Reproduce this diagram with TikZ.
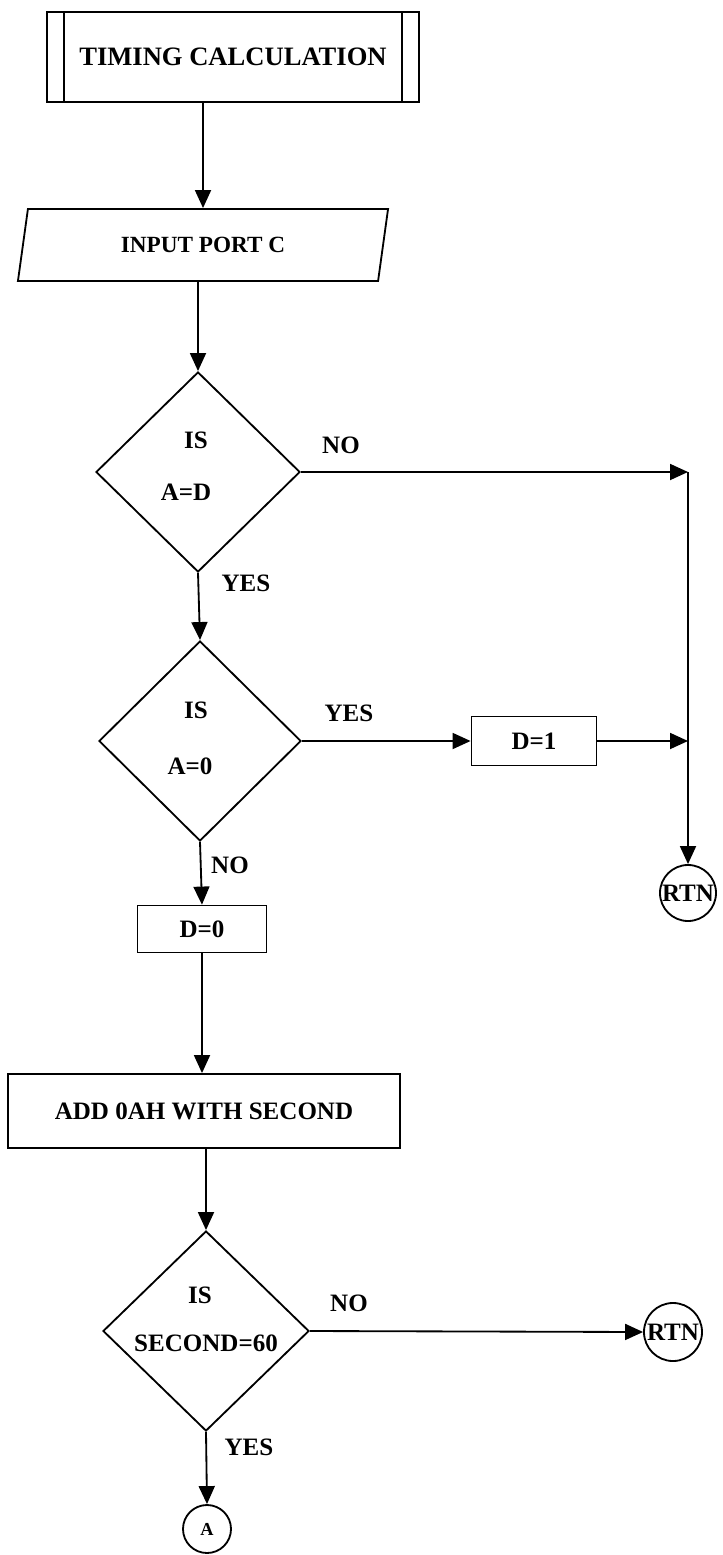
\documentclass[tikz,border=0pt]{standalone}
\usepackage{fontspec}
\setmainfont{Liberation Serif}
\usetikzlibrary{arrows.meta,shapes.geometric}

\begin{document}
\begin{tikzpicture}[x=0.025cm,y=-0.025cm,
  every node/.style={font=\bfseries\fontsize{17.8}{21}\selectfont},
  flowline/.style={line width=1.3pt,-{Triangle[length=0.45cm,width=0.4cm]}},
  procbox/.style={draw,line width=1.3pt,rectangle,inner sep=0pt},
  decision/.style={draw,line width=1.3pt,diamond,inner sep=0pt,minimum height=5cm},
  termnode/.style={draw,line width=1.3pt,circle,inner sep=0pt}]
  \useasboundingbox (0,0) rectangle (722,1555);
  % start box
  \node[procbox,minimum width=9.3cm,minimum height=2.25cm,font=\bfseries\fontsize{18.9}{22}\selectfont] (title) at (233,57) {TIMING CALCULATION};
  \draw[line width=1.3pt] ([xshift=0.45cm]title.north west) -- ([xshift=0.45cm]title.south west);
  \draw[line width=1.3pt] ([xshift=-0.45cm]title.north east) -- ([xshift=-0.45cm]title.south east);
  \node[draw,line width=1.3pt,trapezium,trapezium left angle=57.4,trapezium right angle=122.6,trapezium stretches body,minimum width=9.25cm,minimum height=1.8cm,inner sep=0pt,font=\bfseries\fontsize{16.5}{20}\selectfont] (inp) at (203,245) {INPUT PORT C};
  % first test
  \node[decision,minimum width=5.1cm] (isd) at (198,472) {};
  \node (isdq) at (196,440) {IS};
  \node (isdc) at (186,492) {A=D};
  \node[decision,minimum width=5.05cm] (isz) at (200,741) {};
  \node (iszq) at (196,710) {IS};
  \node (iszc) at (190,766) {A=0};
  \node[procbox,minimum width=3.125cm,minimum height=1.225cm] (dset1) at (534,741) {D=1};
  \node[procbox,minimum width=3.225cm,minimum height=1.175cm] (dset0) at (202,929) {D=0};
  \coordinate (jtop) at (688,472);
  \coordinate (jmid) at (688,741);
  \node[termnode,minimum size=1.4cm] (rtn1) at (688,893) {RTN};
  % second part
  \node[procbox,minimum width=9.8cm,minimum height=1.85cm] (addsec) at (204,1111) {ADD 0AH WITH SECOND};
  \node[decision,minimum width=5.15cm] (issec) at (206,1331) {};
  \node (issecq) at (200,1295) {IS};
  \node (issecc) at (206,1343) {SECOND=60};
  \node[termnode,minimum size=1.45cm] (rtn2) at (673,1332) {RTN};
  \node[termnode,minimum size=1.2cm,font=\bfseries\fontsize{13}{15}\selectfont] (conA) at (207,1529) {A};
  % labels
  \node (nod) at (341,445) {NO};
  \node (yesd) at (246,583) {YES};
  \node (yesz) at (349,713) {YES};
  \node (noz) at (230,865) {NO};
  \node (nosec) at (349,1303) {NO};
  \node (yessec) at (249,1447) {YES};
  % connectors
  \draw[flowline] (inp.north |- title.south) -- (inp.north);
  \draw[flowline] (isd.north |- inp.south) -- (isd.north);
  \draw[flowline] (isd.east) -- (jtop);
  \draw[flowline] (jtop) -- (rtn1.north);
  \draw[flowline] (isd.south) -- (isz.north);
  \draw[flowline] (isz.east) -- (dset1.west);
  \draw[flowline] (dset1.east) -- (jmid);
  \draw[flowline] (isz.south) -- (dset0.north);
  \draw[flowline] (dset0.south) -- (dset0.south |- addsec.north);
  \draw[flowline] (issec.north |- addsec.south) -- (issec.north);
  \draw[flowline] (issec.east) -- (rtn2.west);
  \draw[flowline] (issec.south) -- (conA.north);
\end{tikzpicture}
\end{document}
